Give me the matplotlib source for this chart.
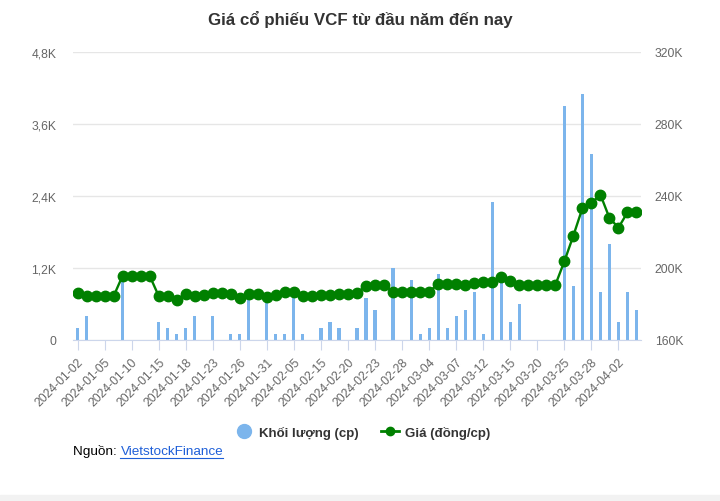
import matplotlib
matplotlib.use("Agg")
import matplotlib.pyplot as plt
from matplotlib.ticker import FuncFormatter, MultipleLocator
from matplotlib.lines import Line2D

plt.rcParams['font.family'] = ['Liberation Sans', 'DejaVu Sans']

# --- data ---
dates = ["2024-01-02", "2024-01-03", "2024-01-04", "2024-01-05", "2024-01-08", "2024-01-09",
         "2024-01-10", "2024-01-11", "2024-01-12", "2024-01-15", "2024-01-16", "2024-01-17",
         "2024-01-18", "2024-01-19", "2024-01-22", "2024-01-23", "2024-01-24", "2024-01-25",
         "2024-01-26", "2024-01-29", "2024-01-30", "2024-01-31", "2024-02-01", "2024-02-02",
         "2024-02-05", "2024-02-06", "2024-02-07", "2024-02-15", "2024-02-16", "2024-02-19",
         "2024-02-20", "2024-02-21", "2024-02-22", "2024-02-23", "2024-02-26", "2024-02-27",
         "2024-02-28", "2024-02-29", "2024-03-01", "2024-03-04", "2024-03-05", "2024-03-06",
         "2024-03-07", "2024-03-08", "2024-03-11", "2024-03-12", "2024-03-13", "2024-03-14",
         "2024-03-15", "2024-03-18", "2024-03-19", "2024-03-20", "2024-03-21", "2024-03-22",
         "2024-03-25", "2024-03-26", "2024-03-27", "2024-03-28", "2024-03-29", "2024-04-01",
         "2024-04-02", "2024-04-03", "2024-04-04"]

volume = [200, 400, 0, 0, 0, 1100, 0, 0, 0, 300, 200, 100, 200, 400, 0, 400, 0, 100, 100, 800,
          0, 700, 100, 100, 700, 100, 0, 200, 300, 200, 0, 200, 700, 500, 0, 1200, 0, 1000, 100,
          200, 1100, 200, 400, 500, 800, 100, 2300, 1100, 300, 600, 0, 0, 0, 0, 3900, 900, 4100,
          3100, 800, 1600, 300, 800, 500]

price = [185900, 184300, 184300, 184500, 184300, 195700, 195700, 195700, 195700, 184500,
         184500, 182200, 185700, 184700, 185000, 186300, 186300, 185600, 183200, 185700,
         185600, 183700, 185200, 186900, 186900, 184400, 184400, 184800, 185000, 185800,
         185600, 186100, 190200, 190700, 190600, 186700, 186700, 186700, 186700, 186700,
         191300, 191300, 191100, 190600, 191700, 192200, 192200, 195000, 192600, 190600,
         190600, 190600, 190600, 190600, 203700, 218000, 233200, 236100, 240700, 227800,
         222400, 230900, 231300]

x = list(range(len(dates)))

fig = plt.figure(figsize=(7.2, 5.02), dpi=100)
ax = fig.add_axes([73 / 720, 1 - 341 / 502, 568 / 720, 288 / 502])
ax2 = ax.twinx()

ax.bar(x, volume, width=0.35, color="#7cb5ec", zorder=2)
ax2.plot(x, price, color="#008000", linewidth=1.7, marker="o", markersize=7.5, zorder=3)

ax.set_xlim(-0.5, len(dates) - 0.5)
ax.set_ylim(0, 4800)
ax2.set_ylim(160000, 320000)
ax.yaxis.set_major_locator(MultipleLocator(1200))
ax2.yaxis.set_major_locator(MultipleLocator(40000))


def vol_fmt(v, pos):
    if v == 0:
        return "0"
    return ("%.1fK" % (v / 1000)).replace(".", ",")


ax.yaxis.set_major_formatter(FuncFormatter(vol_fmt))
ax2.yaxis.set_major_formatter(FuncFormatter(lambda v, p: "%dK" % (v / 1000)))

ax.grid(axis="y", color="#e6e6e6", linewidth=1, zorder=0)
ax.set_axisbelow(True)
for a in (ax, ax2):
    for s in a.spines.values():
        s.set_visible(False)
ax.spines["bottom"].set_visible(True)
ax.spines["bottom"].set_color("#ccd6eb")

ax.set_xticks(x[::3])
ax.set_xticklabels(dates[::3], rotation=45, ha="right", rotation_mode="anchor",
                   fontsize=8.7, color="#666666")
ax.tick_params(axis="x", length=7, color="#ccd6eb", pad=4)
ax.tick_params(axis="y", length=0, labelsize=8.7, labelcolor="#666666", pad=12)
ax2.tick_params(axis="y", length=0, labelsize=8.7, labelcolor="#666666", pad=10)

fig.text(0.5, 1 - 20 / 502, "Giá cổ phiếu VCF từ đầu năm đến nay", ha="center", va="center",
         fontsize=12.2, fontweight="bold", color="#333333")

# legend
handles = [Line2D([], [], color="#7cb5ec", marker="o", linestyle="none", markersize=10),
           Line2D([], [], color="#008000", marker="o", linewidth=2, markersize=6)]
fig.legend(handles, ["Khối lượng (cp)", "Giá (đồng/cp)"], loc="center",
           bbox_to_anchor=(0.5 + 3 / 720, 1 - 433 / 502), ncol=2, frameon=False,
           prop={"weight": "bold", "size": 9.5}, labelcolor="#333333",
           handlelength=1.3, columnspacing=1.7, handletextpad=0.5)

# source line
t1 = fig.text(73 / 720, 1 - 452 / 502, "Nguồn: ", ha="left", va="center", fontsize=9.7, color="#000000")
fig.canvas.draw()
bb = t1.get_window_extent()
x2 = bb.x1 / 720
t2 = fig.text(x2, 1 - 452 / 502, "VietstockFinance", ha="left", va="center", fontsize=9.7,
              color="#1e5fd8")
fig.canvas.draw()
bb2 = t2.get_window_extent()
fig.add_artist(Line2D([bb2.x0 / 720, bb2.x1 / 720], [(bb2.y0 - 0.5) / 502] * 2,
                      color="#1e5fd8", linewidth=0.8))

fig.patches.append(plt.Rectangle((0, 0), 1, 6 / 502, transform=fig.transFigure,
                                 color="#f2f2f2", zorder=0))

fig.savefig("out.png", dpi=100)
